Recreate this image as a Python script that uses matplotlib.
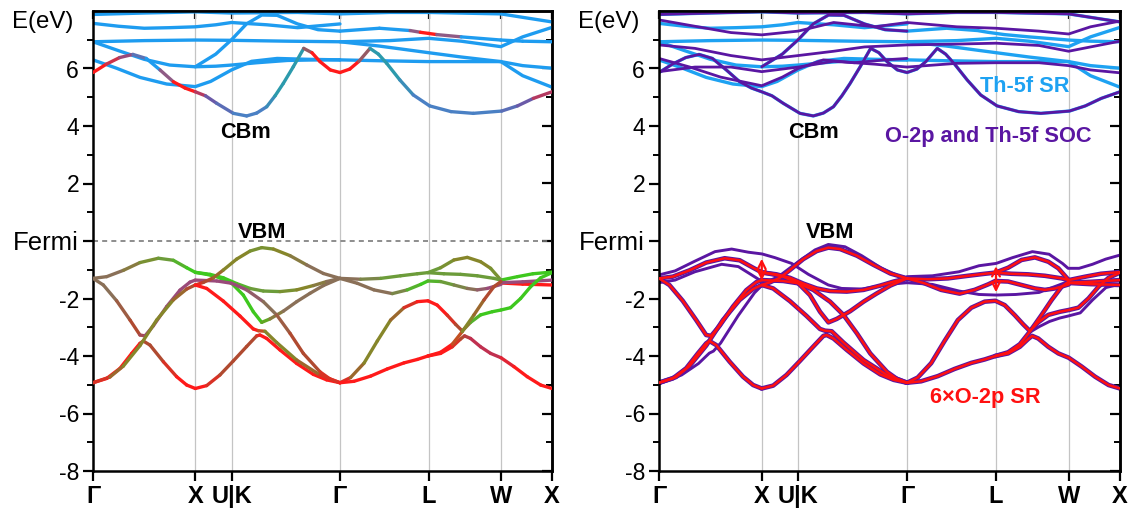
import matplotlib
matplotlib.use('Agg')
import matplotlib.pyplot as plt
from matplotlib.collections import LineCollection
from matplotlib.colors import to_rgb
import numpy as np

plt.rcParams['font.family'] = ['Liberation Sans', 'DejaVu Sans']

# high-symmetry points along the fcc path
kpts = [0.0, 1.0, 1.354, 2.414, 3.280, 3.987, 4.487]
klabels = ['Γ', 'X', 'U|K', 'Γ', 'L', 'W', 'X']
yticks = [-8, -6, -4, -2, 0, 2, 4, 6]
ylabels = ['-8', '-6', '-4', '-2', 'Fermi', '2', '4', '6']

# colour codes used for the projected (left) bands
R, G, OL, OG, BR, RB, PU, CR = '#ff1a1a', '#3ec81e', '#86862a', '#6c9c3a', '#8a7058', '#b04a30', '#9a4a7a', '#c03050'
B, ST, TE, VI = '#1e9cf0', '#4a80c4', '#2c9aac', '#6a5aa8'

# ---- valence bands (O-2p), Γ-X-U|K-Γ ----
gx_top_k = [0, 0.134, 0.297, 0.459, 0.639, 0.785, 0.916, 1.0]
gx_top_e = [-1.30, -1.24, -1.02, -0.75, -0.60, -0.67, -0.93, -1.09]
gx_top_c = [BR, BR, BR, OL, OG, OG, G, G]

xk_dip_k = [1.0, 1.111, 1.209, 1.355, 1.469, 1.567, 1.649, 1.730, 1.861, 1.991, 2.121, 2.252, 2.414]
xk_dip_e = [-1.09, -1.16, -1.24, -1.47, -1.88, -2.46, -2.83, -2.71, -2.44, -2.11, -1.82, -1.55, -1.30]
xk_dip_c = [G, G, G, G, G, G, G, OL, BR, BR, BR, BR, BR]

xk_flat_k = [1.0, 1.144, 1.274, 1.404, 1.535, 1.665, 1.828, 1.991, 2.154, 2.284, 2.414]
xk_flat_e = [-1.09, -1.16, -1.28, -1.48, -1.65, -1.74, -1.76, -1.70, -1.55, -1.41, -1.30]
xk_flat_c = [G, G, G, G, OG, OG, OG, OL, OL, BR, BR]

gx_v_k = [0, 0.101, 0.231, 0.362, 0.459, 0.508, 0.590, 0.720, 0.850, 0.948, 1.0]
gx_v_e = [-1.30, -1.53, -2.08, -2.75, -3.27, -3.30, -2.95, -2.28, -1.71, -1.43, -1.36]
gx_v_c = [BR, BR, BR, RB, RB, PU, PU, PU, PU, PU, PU]

xg_pu_k = [1.0, 1.209, 1.355, 1.502, 1.665, 1.795, 1.926, 2.056, 2.219, 2.317, 2.414]
xg_pu_e = [-1.36, -1.39, -1.47, -1.70, -2.11, -2.57, -3.21, -3.91, -4.55, -4.80, -4.93]
xg_pu_c = [PU, PU, PU, PU, BR, BR, RB, RB, RB, R, R]

gx_low_k = [0, 0.134, 0.264, 0.378, 0.459, 0.492, 0.557, 0.688, 0.818, 0.916, 1.0]
gx_low_e = [-4.93, -4.78, -4.43, -3.91, -3.56, -3.48, -3.62, -4.20, -4.72, -5.01, -5.13]
gx_low_c = [R, R, R, R, R, RB, RB, RB, R, R, R]

xk_low_k = [1.0, 1.111, 1.241, 1.372, 1.502, 1.600, 1.632, 1.698, 1.828, 1.991, 2.154, 2.284, 2.414]
xk_low_e = [-5.13, -5.03, -4.66, -4.17, -3.67, -3.30, -3.27, -3.39, -3.79, -4.26, -4.64, -4.83, -4.93]
xk_low_c = [R, R, RB, RB, RB, RB, R, R, R, R, R, R, R]

gx_mid_k = [0, 0.166, 0.297, 0.459, 0.622, 0.785, 0.916, 1.0]
gx_mid_e = [-4.93, -4.73, -4.35, -3.64, -2.75, -2.05, -1.67, -1.53]
gx_mid_c = [R, RB, OL, OL, OL, OL, RB, RB]

xk_vbm_k = [1.0, 1.079, 1.176, 1.274, 1.404, 1.535, 1.649, 1.763, 1.926, 2.088, 2.252, 2.414]
xk_vbm_e = [-1.53, -1.44, -1.28, -1.01, -0.63, -0.35, -0.23, -0.28, -0.51, -0.83, -1.13, -1.30]
xk_vbm_c = [R, RB, RB, OL, OL, OL, OG, OL, OL, BR, BR, BR]

xk_red_k = [1.0, 1.111, 1.274, 1.437, 1.567, 1.616, 1.681, 1.795, 1.991, 2.219, 2.414]
xk_red_e = [-1.53, -1.65, -2.09, -2.61, -3.06, -3.12, -3.14, -3.53, -4.14, -4.66, -4.93]
xk_red_c = [R, R, R, R, R, R, OL, OL, OL, RB, R]

# ---- valence bands, Γ-L-W-X ----
gl_top_k = [2.414, 2.616, 2.812, 3.007, 3.170, 3.274]
gl_top_e = [-1.30, -1.33, -1.30, -1.21, -1.14, -1.10]
gl_top_c = [BR, BR, OG, OG, OG, OG]

lw_hump_k = [3.274, 3.398, 3.528, 3.659, 3.789, 3.887, 3.988]
lw_hump_e = [-1.10, -0.93, -0.66, -0.57, -0.72, -0.95, -1.36]
lw_hump_c = [OG, OG, OL, OL, OL, OL, OG]

wx_top_k = [3.988, 4.15, 4.30, 4.487]
wx_top_e = [-1.36, -1.24, -1.14, -1.08]
wx_top_c = [G, G, G, G]

lw_flat_k = [3.274, 3.430, 3.593, 3.756, 3.919, 3.988]
lw_flat_e = [-1.10, -1.14, -1.16, -1.21, -1.30, -1.36]
lw_flat_c = [OG, OG, OG, OG, OG, OG]

wx_red_k = [3.988, 4.2, 4.487]
wx_red_e = [-1.46, -1.50, -1.53]
wx_red_c = [R, R, R]

gw_dip_k = [2.414, 2.583, 2.746, 2.926, 3.072, 3.203, 3.274, 3.398, 3.528, 3.659, 3.756, 3.854, 3.988]
gw_dip_e = [-1.30, -1.47, -1.70, -1.83, -1.70, -1.51, -1.39, -1.41, -1.53, -1.65, -1.70, -1.65, -1.51]
gw_dip_c = [BR, BR, BR, BR, OG, G, G, OG, OG, BR, BR, PU, PU]

wx_pu_k = [3.988, 4.2, 4.487]
wx_pu_e = [-1.45, -1.42, -1.36]
wx_pu_c = [PU, PU, PU]

gx_s_k = [2.414, 2.518, 2.649, 2.779, 2.909, 3.040, 3.170, 3.274, 3.365, 3.463, 3.545, 3.610,
          3.691, 3.789, 3.903, 3.988, 4.082, 4.180, 4.278, 4.376, 4.487]
gx_s_e = [-4.93, -4.75, -4.25, -3.48, -2.75, -2.32, -2.11, -2.08, -2.23, -2.58, -2.90, -3.13,
          -2.83, -2.57, -2.46, -2.40, -2.32, -2.00, -1.59, -1.28, -1.10]
gx_s_c = [R, RB, OL, OL, OL, RB, R, R, R, R, RB, RB, OG, G, G, G, G, G, G, G, G]

gl_low_k = [2.414, 2.551, 2.714, 2.877, 3.040, 3.170, 3.274]
gl_low_e = [-4.93, -4.88, -4.70, -4.45, -4.24, -4.12, -4.00]
gl_low_c = [R] * 7

lx_low_k = [3.274, 3.398, 3.512, 3.593, 3.632, 3.691, 3.789, 3.887, 3.988, 4.115, 4.245, 4.376, 4.487]
lx_low_e = [-4.00, -3.91, -3.68, -3.41, -3.30, -3.39, -3.68, -3.91, -4.06, -4.37, -4.72, -5.01, -5.13]
lx_low_c = [R, R, R, RB, RB, CR, CR, CR, CR, R, R, R, R]

lw_steep_k = [3.274, 3.398, 3.512, 3.610, 3.724, 3.822, 3.919, 3.988]
lw_steep_e = [-4.00, -3.87, -3.59, -3.15, -2.57, -2.05, -1.59, -1.41]
lw_steep_c = [R, R, R, OL, OL, RB, RB, RB]

# ---- conduction bands (Th-5f) ----
cbm_k = [0, 0.13, 0.26, 0.39, 0.52, 0.655, 0.785, 0.9, 1.0, 1.1, 1.209, 1.372, 1.502, 1.6, 1.698, 1.78,
         1.86, 1.958, 2.06, 2.14, 2.219, 2.32, 2.414, 2.51, 2.6, 2.708, 2.79, 2.871, 3.0, 3.131, 3.29,
         3.5, 3.717, 3.995, 4.15, 4.304, 4.487]
cbm_e = [5.86, 6.15, 6.38, 6.49, 6.35, 5.95, 5.54, 5.32, 5.19, 5.05, 4.79, 4.44, 4.35, 4.45, 4.67, 5.05,
         5.48, 6.06, 6.70, 6.55, 6.24, 5.95, 5.86, 5.98, 6.25, 6.70, 6.50, 6.18, 5.60, 5.08, 4.70,
         4.50, 4.44, 4.52, 4.70, 4.96, 5.19]
cbm_c = [R, R, PU, PU, B, B, R, R, R, VI, VI, ST, ST, ST, ST, TE,
         TE, TE, TE, R, R, R, R, R, R, TE, TE, TE, TE, ST, ST,
         ST, ST, ST, VI, VI, R]

cb_g_k = [2.414, 2.8, 3.1, 3.2, 3.28, 3.36, 3.6, 3.987, 4.2, 4.487]
cb_g_e = [7.30, 7.40, 7.32, 7.26, 7.22, 7.18, 7.10, 6.99, 6.95, 6.93]
cb_g_c = [B, B, B, R, R, R, B, B, B, B]

cb_top_k = [0, 0.5, 1.0, 1.354, 2.0, 2.414, 2.9, 3.28, 3.7, 3.987, 4.2, 4.487]
cb_top_e = [7.88, 7.93, 7.97, 7.93, 7.95, 7.90, 7.95, 7.95, 7.92, 7.90, 7.78, 7.62]
cb_b_k = [0, 0.25, 0.5, 0.75, 1.0, 1.2, 1.354, 1.7, 2.0, 2.414]
cb_b_e = [7.57, 7.47, 7.40, 7.42, 7.45, 7.52, 7.60, 7.52, 7.42, 7.55]
cb_c_k = [0, 0.5, 1.0, 1.354, 1.9, 2.414, 2.9, 3.28, 3.6, 3.987, 4.2, 4.487]
cb_c_e = [6.93, 6.97, 6.99, 6.98, 6.95, 6.93, 6.97, 7.05, 6.95, 6.76, 7.10, 7.43]
cb_d_k = [0, 0.25, 0.5, 0.75, 1.0, 1.2, 1.354, 1.6, 1.9, 2.2, 2.414]
cb_d_e = [6.93, 6.62, 6.32, 6.12, 6.06, 6.08, 6.12, 6.20, 6.28, 6.30, 6.30]
cb_e_k = [0, 0.23, 0.46, 0.72, 1.0, 1.15, 1.354, 1.55, 1.8, 2.1, 2.414]
cb_e_e = [6.30, 6.01, 5.69, 5.46, 5.37, 5.55, 5.95, 6.25, 6.35, 6.32, 6.30]
cb_arc_k = [1.0, 1.2, 1.354, 1.5, 1.65, 1.8, 2.0, 2.2, 2.414]
cb_arc_e = [6.06, 6.50, 7.00, 7.55, 7.86, 7.85, 7.55, 7.35, 7.30]
cb_f_k = [2.414, 2.8, 3.28, 3.6, 3.987, 4.2, 4.487]
cb_f_e = [6.30, 6.27, 6.24, 6.24, 6.24, 6.10, 6.01]
cb_h_k = [2.414, 2.8, 3.28, 3.6, 3.987, 4.2, 4.487]
cb_h_e = [6.93, 6.78, 6.55, 6.40, 6.24, 5.75, 5.35]

# ---- extra spin-orbit (SOC) bands seen only in the right panel ----
soc1_k = [0, 0.156, 0.350, 0.545, 0.707, 0.870, 1.003, 1.129, 1.291, 1.454, 1.648, 1.778, 1.973, 2.232, 2.414]
soc1_e = [-1.18, -1.04, -0.70, -0.37, -0.28, -0.39, -0.45, -0.58, -0.78, -1.16, -1.53, -1.65, -1.67, -1.51, -1.45]
soc2_k = [0, 0.156, 0.350, 0.610, 0.772, 0.902, 1.003]
soc2_e = [-1.45, -1.36, -1.07, -0.81, -0.89, -1.18, -1.41]
soc3_k = [1.0, 1.162, 1.356, 1.518, 1.648, 1.810, 1.973, 2.167, 2.330, 2.414]
soc3_e = [-1.50, -1.24, -0.72, -0.31, -0.12, -0.20, -0.51, -0.95, -1.21, -1.28]
soc4_k = [0, 0.22, 0.385, 0.49, 0.53, 0.6, 0.77, 0.93, 1.0]
soc4_e = [-4.97, -4.66, -4.26, -3.90, -3.83, -3.55, -2.60, -1.80, -1.55]
soc5_k = [2.414, 2.661, 2.920, 3.115, 3.281, 3.440, 3.634, 3.797, 3.927, 3.982, 4.089, 4.219, 4.348, 4.487]
soc5_e = [-1.24, -1.21, -1.07, -0.86, -0.78, -0.58, -0.37, -0.46, -0.78, -0.95, -0.95, -0.81, -0.63, -0.49]
soc6_k = [2.414, 2.661, 2.920, 3.115, 3.281, 3.472, 3.699, 3.894, 3.982]
soc6_e = [-1.45, -1.51, -1.74, -1.86, -1.88, -1.86, -1.79, -1.53, -1.41]
soc7_k = [3.62, 3.70, 3.80, 3.90, 3.982, 4.10, 4.22, 4.35, 4.487]
soc7_e = [-3.15, -2.98, -2.80, -2.68, -2.61, -2.50, -2.05, -1.62, -1.50]
socc1_k = [0, 0.3, 0.6, 1.0, 1.2, 1.354, 1.6, 1.9, 2.2, 2.414]
socc1_e = [6.35, 6.05, 5.70, 5.40, 5.70, 6.00, 6.30, 6.20, 6.30, 6.35]
socc2_k = [0, 0.35, 0.7, 1.0, 1.354, 1.7, 2.0, 2.414, 2.9, 3.28, 3.7, 3.987, 4.2, 4.487]
socc2_e = [6.82, 6.70, 6.45, 6.30, 6.45, 6.60, 6.75, 6.82, 6.85, 6.88, 6.80, 6.60, 6.75, 6.95]
socc3_k = [0, 0.3, 0.7, 1.0, 1.354, 1.7, 2.1, 2.414, 2.9, 3.28, 3.7, 3.987, 4.2, 4.487]
socc3_e = [7.69, 7.50, 7.25, 7.17, 7.30, 7.60, 7.45, 7.60, 7.45, 7.40, 7.30, 7.20, 7.45, 7.65]
socc4_k = [0, 0.35, 0.7, 1.0, 1.354, 1.7, 2.1, 2.414, 2.9, 3.28, 3.7, 3.987, 4.2, 4.487]
socc4_e = [5.89, 6.05, 6.05, 5.89, 6.05, 6.25, 6.15, 6.05, 6.18, 6.20, 6.20, 6.10, 5.95, 5.85]

valence = [
    (gx_top_k, gx_top_e, gx_top_c), (xk_dip_k, xk_dip_e, xk_dip_c), (xk_flat_k, xk_flat_e, xk_flat_c),
    (gx_v_k, gx_v_e, gx_v_c), (xg_pu_k, xg_pu_e, xg_pu_c), (gx_low_k, gx_low_e, gx_low_c),
    (xk_low_k, xk_low_e, xk_low_c), (gx_mid_k, gx_mid_e, gx_mid_c), (xk_vbm_k, xk_vbm_e, xk_vbm_c),
    (xk_red_k, xk_red_e, xk_red_c), (gl_top_k, gl_top_e, gl_top_c), (lw_hump_k, lw_hump_e, lw_hump_c),
    (wx_top_k, wx_top_e, wx_top_c), (lw_flat_k, lw_flat_e, lw_flat_c), (wx_red_k, wx_red_e, wx_red_c),
    (gw_dip_k, gw_dip_e, gw_dip_c), (wx_pu_k, wx_pu_e, wx_pu_c), (gx_s_k, gx_s_e, gx_s_c),
    (gl_low_k, gl_low_e, gl_low_c), (lx_low_k, lx_low_e, lx_low_c), (lw_steep_k, lw_steep_e, lw_steep_c),
]
conduction = [(cb_top_k, cb_top_e), (cb_b_k, cb_b_e), (cb_c_k, cb_c_e), (cb_d_k, cb_d_e), (cb_e_k, cb_e_e),
              (cb_arc_k, cb_arc_e), (cb_f_k, cb_f_e), (cb_h_k, cb_h_e)]
soc_valence = [(soc1_k, soc1_e), (soc2_k, soc2_e), (soc3_k, soc3_e), (soc4_k, soc4_e),
               (soc5_k, soc5_e), (soc6_k, soc6_e), (soc7_k, soc7_e)]
soc_conduction = [(cbm_k, cbm_e), (socc1_k, socc1_e), (socc2_k, socc2_e), (socc3_k, socc3_e),
                  (socc4_k, socc4_e), (cb_top_k, cb_top_e), (cb_arc_k, cb_arc_e)]

RED, PURPLE, BLUE = '#ff1010', '#5a16a2', '#1ea2f2'
FS_LAB = 15.7
LW = 2.4


def colored_line(ax, k, e, cols, lw=LW):
    pts = np.column_stack([k, e])
    segs = np.stack([pts[:-1], pts[1:]], axis=1)
    rgb = [tuple((np.array(to_rgb(a)) + np.array(to_rgb(b))) / 2) for a, b in zip(cols[:-1], cols[1:])]
    ax.add_collection(LineCollection(segs, colors=rgb, linewidths=lw, capstyle='round', zorder=3))


def frame(ax, fermi_line):
    ax.set_xlim(0, kpts[-1])
    ax.set_ylim(-8, 8)
    for kp in kpts[1:-1]:
        ax.axvline(kp, color='#c4c4c4', lw=0.9, zorder=1)
    if fermi_line:
        ax.axhline(0, color='#7a7a7a', lw=1.2, ls=(0, (3, 2.5)), zorder=1)
    ax.set_xticks(kpts)
    ax.set_xticklabels(klabels, fontsize=17, fontweight='bold')
    ax.set_yticks(yticks)
    ax.set_yticklabels(ylabels, fontsize=16.5)
    for lab in ax.get_yticklabels():
        if lab.get_text() == 'Fermi':
            lab.set_fontsize(18.5)
    ax.set_yticks(np.arange(-7, 8, 2), minor=True)
    ax.tick_params(axis='y', which='major', direction='out', length=7, width=1.6, pad=3)
    ax.tick_params(axis='y', which='minor', direction='out', length=4, width=1.4)
    ax.tick_params(axis='x', direction='out', length=7, width=1.6, pad=3)
    for s in ax.spines.values():
        s.set_linewidth(1.8)
    ax.text(-0.19, 7.62, 'E(eV)', fontsize=17.3, ha='right', va='center')
    sy = ax.secondary_yaxis('right')
    sy.set_yticks(yticks)
    sy.set_yticks(np.arange(-7, 8, 2), minor=True)
    sy.tick_params(which='major', direction='in', length=7, width=1.6, labelright=False)
    sy.tick_params(which='minor', direction='in', length=4, width=1.4)
    sy.spines['right'].set_linewidth(1.8)
    sx = ax.secondary_xaxis('top')
    sx.set_xticks(kpts)
    sx.tick_params(direction='in', length=6, width=1.6, labeltop=False)
    sx.spines['top'].set_linewidth(1.8)


fig = plt.figure(figsize=(11.36, 5.16), dpi=100)
ax1 = fig.add_axes([93 / 1136, 45 / 516, 459 / 1136, 460 / 516])
ax2 = fig.add_axes([659 / 1136, 45 / 516, 461 / 1136, 460 / 516])

# left: projected bands
frame(ax1, True)
for k, e in conduction:
    ax1.plot(k, e, color=B, lw=LW, zorder=2, solid_capstyle='round')
colored_line(ax1, cb_g_k, cb_g_e, cb_g_c)
colored_line(ax1, cbm_k, cbm_e, cbm_c)
for k, e, c in valence:
    colored_line(ax1, k, e, c)
ax1.text(1.486, 3.79, 'CBm', fontsize=FS_LAB, fontweight='bold', ha='center', va='center')
ax1.text(1.652, 0.31, 'VBM', fontsize=FS_LAB, fontweight='bold', ha='center', va='center')

# right: scalar-relativistic (SR) versus spin-orbit (SOC)
frame(ax2, False)
for k, e in conduction + [(cbm_k, cbm_e), (cb_g_k, cb_g_e)]:
    ax2.plot(k, e, color=BLUE, lw=LW, zorder=2, solid_capstyle='round')
for k, e in soc_conduction:
    ax2.plot(k, e, color=PURPLE, lw=2.0, zorder=2.5, solid_capstyle='round')
for k, e, c in valence:
    ax2.plot(k, e, color=PURPLE, lw=3.3, zorder=2, solid_capstyle='round')
for k, e in soc_valence:
    ax2.plot(k, e, color=PURPLE, lw=2.1, zorder=2, solid_capstyle='round')
for k, e, c in valence:
    ax2.plot(k, e, color=RED, lw=1.8, zorder=3, solid_capstyle='round')
arrow = dict(arrowstyle='<->', color=RED, lw=1.6, mutation_scale=14)
ax2.annotate('', xy=(1.0, -0.52), xytext=(1.0, -1.47), arrowprops=arrow, zorder=4)
ax2.annotate('', xy=(3.28, -0.78), xytext=(3.28, -1.88), arrowprops=arrow, zorder=4)
ax2.text(1.50, 3.79, 'CBm', fontsize=FS_LAB, fontweight='bold', ha='center', va='center')
ax2.text(1.665, 0.31, 'VBM', fontsize=FS_LAB, fontweight='bold', ha='center', va='center')
ax2.text(3.564, 5.39, 'Th-5f SR', fontsize=FS_LAB, fontweight='bold', color=BLUE, ha='center', va='center')
ax2.text(3.204, 3.62, 'O-2p and Th-5f SOC', fontsize=FS_LAB, fontweight='bold', color=PURPLE,
         ha='center', va='center')
ax2.text(3.175, -5.43, '6×O-2p SR', fontsize=FS_LAB, fontweight='bold', color=RED, ha='center', va='center')

fig.savefig('out.png', dpi=100)
